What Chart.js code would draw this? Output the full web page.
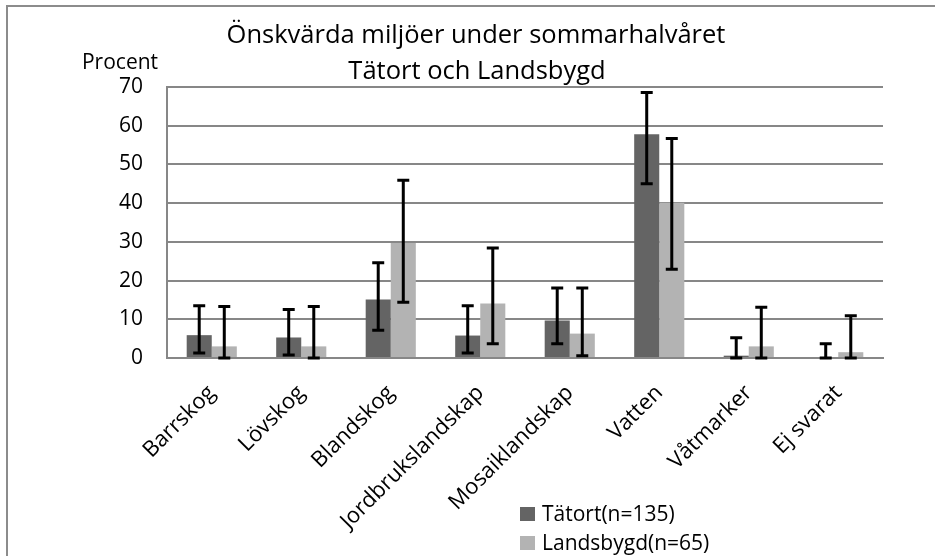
<!DOCTYPE html>
<html>
<head>
<meta charset="utf-8">
<script src="https://cdn.jsdelivr.net/npm/chart.js@4/dist/chart.umd.min.js"></script>
<style>
  html, body { margin: 0; padding: 0; background: #fff; overflow: hidden; }
  #wrap { position: relative; width: 935px; height: 556px; }
  #frame { position: absolute; left: 6px; top: 5px; width: 1000px; height: 600px;
           border-left: 2px solid #8c8c8c; border-top: 2px solid #8c8c8c; }
  canvas { position: absolute; left: 0; top: 0; }
</style>
</head>
<body>
<div id="wrap">
  <div id="frame"></div>
  <canvas id="c" width="935" height="556"></canvas>
</div>
<script>
const titleLines = ['Önskvärda miljöer under sommarhalvåret', 'Tätort och Landsbygd'];
const yAxisLabel = 'Procent';
const categories = ['Barrskog', 'Lövskog', 'Blandskog', 'Jordbrukslandskap', 'Mosaiklandskap', 'Vatten', 'Våtmarker', 'Ej svarat'];
const seriesNames = ['Tätort(n=135)', 'Landsbygd(n=65)'];
const tatort = [5.9, 5.3, 15.1, 5.8, 9.7, 57.8, 0.6, 0];
const landsbygd = [3.0, 3.0, 29.7, 14.1, 6.3, 40.1, 3.0, 1.5];
const tatortLow = [1.3, 0.8, 7.2, 1.3, 3.7, 45.0, 0, 0];
const tatortHigh = [13.5, 12.5, 24.6, 13.5, 18.1, 68.6, 5.2, 3.7];
const landsLow = [0, 0, 14.4, 3.7, 0.6, 22.9, 0, 0];
const landsHigh = [13.3, 13.3, 45.9, 28.4, 18.1, 56.7, 13.1, 10.9];
const yTicks = [0, 10, 20, 30, 40, 50, 60, 70];

const FONT = "'Open Sans', 'DejaVu Sans', sans-serif";
const colors = ['#646464', '#b3b3b3'];
const errLow = [tatortLow, landsLow];
const errHigh = [tatortHigh, landsHigh];

const errorBars = {
  id: 'errorBars',
  afterDatasetsDraw(chart) {
    const ctx = chart.ctx;
    const y = chart.scales.y;
    ctx.save();
    ctx.strokeStyle = '#000';
    ctx.lineWidth = 3;
    chart.data.datasets.forEach((ds, di) => {
      const meta = chart.getDatasetMeta(di);
      meta.data.forEach((bar, i) => {
        const x = bar.x;
        const yl = y.getPixelForValue(errLow[di][i]);
        const yh = y.getPixelForValue(errHigh[di][i]);
        ctx.beginPath();
        ctx.moveTo(x, yl); ctx.lineTo(x, yh);
        ctx.moveTo(x - 6, yh); ctx.lineTo(x + 6, yh);
        ctx.moveTo(x - 6, yl); ctx.lineTo(x + 6, yl);
        ctx.stroke();
      });
    });
    ctx.restore();
  }
};

const decorations = {
  id: 'decorations',
  afterDraw(chart) {
    const ctx = chart.ctx;
    ctx.save();
    ctx.fillStyle = '#000';
    ctx.textAlign = 'center';
    ctx.textBaseline = 'middle';
    ctx.font = '25.5px ' + FONT;
    ctx.fillText(titleLines[0], 476, 36);
    ctx.fillText(titleLines[1], 477, 72);
    ctx.font = '21px ' + FONT;
    ctx.fillText(yAxisLabel, 120, 63);
    // legend
    ctx.textAlign = 'left';
    ctx.font = '21px ' + FONT;
    chart.data.datasets.forEach((ds, i) => {
      const yy = 514 + i * 29;
      ctx.fillStyle = ds.backgroundColor;
      ctx.fillRect(520, yy - 7, 15, 14);
      ctx.fillStyle = '#000';
      ctx.fillText(ds.label, 542, yy + 1);
    });
    ctx.restore();
  }
};

new Chart(document.getElementById('c'), {
  type: 'bar',
  data: {
    labels: categories,
    datasets: [
      { label: seriesNames[0], data: tatort, backgroundColor: colors[0] },
      { label: seriesNames[1], data: landsbygd, backgroundColor: colors[1] }
    ]
  },
  options: {
    responsive: false,
    animation: false,
    layout: { padding: { top: 87, right: 52, left: 0, bottom: 0 } },
    datasets: { bar: { categoryPercentage: 0.56, barPercentage: 1.0 } },
    plugins: {
      legend: { display: false },
      title: { display: false },
      tooltip: { enabled: false }
    },
    scales: {
      x: {
        grid: { display: false, drawTicks: false },
        border: { color: '#878787', width: 2 },
        ticks: {
          color: '#000',
          font: { family: FONT, size: 22 },
          minRotation: 45, maxRotation: 45,
          padding: 22
        },
        afterFit(s) { s.height = 198; }
      },
      y: {
        min: 0, max: 70,
        afterBuildTicks(s) { s.ticks = yTicks.map(v => ({ value: v })); },
        grid: { color: '#878787', lineWidth: 2, drawTicks: false },
        border: { color: '#878787', width: 2 },
        ticks: {
          color: '#000',
          font: { family: FONT, size: 21 },
          padding: 24
        },
        afterFit(s) { s.width = 167; }
      }
    }
  },
  plugins: [errorBars, decorations]
});
</script>
</body>
</html>
